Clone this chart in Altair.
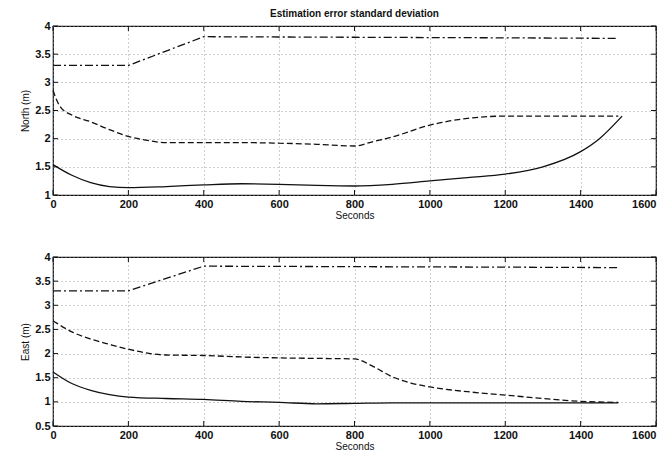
import altair as alt
import pandas as pd

# ---------------- data ----------------
# North panel
n_dd_x = [0, 200, 400, 800, 1200, 1500]
n_dd_y = [3.3, 3.3, 3.81, 3.8, 3.79, 3.78]
n_da_x = [0, 10, 20, 50, 100, 150, 200, 250, 300, 400, 500, 600, 700, 800, 850, 900, 1000, 1100, 1200, 1300, 1400, 1500]
n_da_y = [2.86, 2.68, 2.56, 2.42, 2.30, 2.16, 2.04, 1.97, 1.93, 1.93, 1.93, 1.92, 1.90, 1.87, 1.95, 2.03, 2.24, 2.36, 2.40, 2.40, 2.40, 2.40]
n_so_x = [0, 50, 100, 150, 200, 300, 400, 500, 600, 700, 800, 900, 1000, 1100, 1200, 1300, 1400, 1450, 1510]
n_so_y = [1.54, 1.35, 1.22, 1.15, 1.13, 1.15, 1.18, 1.20, 1.19, 1.17, 1.16, 1.19, 1.25, 1.31, 1.37, 1.50, 1.77, 2.00, 2.40]

# East panel
e_dd_x = [0, 200, 400, 800, 1200, 1500]
e_dd_y = [3.3, 3.3, 3.81, 3.8, 3.79, 3.78]
e_da_x = [0, 10, 50, 100, 150, 200, 300, 400, 500, 600, 700, 800, 850, 900, 950, 1000, 1100, 1200, 1300, 1400, 1500]
e_da_y = [2.68, 2.63, 2.45, 2.30, 2.19, 2.09, 1.97, 1.96, 1.93, 1.91, 1.90, 1.89, 1.73, 1.52, 1.39, 1.31, 1.21, 1.14, 1.07, 1.01, 0.99]
e_so_x = [0, 50, 100, 150, 200, 300, 400, 500, 600, 700, 800, 900, 1000, 1200, 1500]
e_so_y = [1.62, 1.38, 1.24, 1.15, 1.10, 1.07, 1.05, 1.01, 0.99, 0.96, 0.97, 0.98, 0.98, 0.98, 0.98]

x_ticks = [0, 200, 400, 600, 800, 1000, 1200, 1400, 1600]
n_y_ticks = [1, 1.5, 2, 2.5, 3, 3.5, 4]
e_y_ticks = [0.5, 1, 1.5, 2, 2.5, 3, 3.5, 4]

FONT = "Liberation Sans"
W, H = 603, 169


def series(xs, ys):
    return pd.DataFrame({"x": xs, "y": ys})


def panel(dd, da, so, ydom, yticks, ytitle, title=None):
    xs = alt.Scale(domain=[0, 1600], nice=False)
    ys = alt.Scale(domain=ydom, nice=False)
    xax = alt.Axis(values=x_ticks, title="Seconds", format="d", titlePadding=1,
                   labelAlign={"condition": {"test": "datum.value >= 1600", "value": "right"},
                               "value": "center"})
    yax = alt.Axis(values=yticks, title=ytitle, format="~g", titlePadding=4)

    l_dd = alt.Chart(dd).mark_line(color="#111", strokeWidth=1.3, strokeDash=[8, 3, 2, 3]).encode(
        x=alt.X("x:Q", scale=xs, axis=xax), y=alt.Y("y:Q", scale=ys, axis=yax))
    l_da = alt.Chart(da).mark_line(color="#111", strokeWidth=1.3, strokeDash=[6, 3],
                                   interpolate="monotone").encode(
        x=alt.X("x:Q", scale=xs, axis=xax), y=alt.Y("y:Q", scale=ys, axis=yax))
    l_so = alt.Chart(so).mark_line(color="#111", strokeWidth=1.3,
                                   interpolate="monotone").encode(
        x=alt.X("x:Q", scale=xs, axis=xax), y=alt.Y("y:Q", scale=ys, axis=yax))

    # inward ticks (top & bottom for x, left & right for y)
    xt = pd.DataFrame({"x": x_ticks})
    yt = pd.DataFrame({"y": yticks})
    t_bot = alt.Chart(xt).mark_rule(color="#111", strokeWidth=1).encode(
        x=alt.X("x:Q", scale=xs, axis=xax), y=alt.value(H), y2=alt.value(H - 5))
    t_top = alt.Chart(xt).mark_rule(color="#111", strokeWidth=1).encode(
        x=alt.X("x:Q", scale=xs, axis=xax), y=alt.value(0), y2=alt.value(5))
    t_left = alt.Chart(yt).mark_rule(color="#111", strokeWidth=1).encode(
        y=alt.Y("y:Q", scale=ys, axis=yax), x=alt.value(0), x2=alt.value(5))
    t_right = alt.Chart(yt).mark_rule(color="#111", strokeWidth=1).encode(
        y=alt.Y("y:Q", scale=ys, axis=yax), x=alt.value(W), x2=alt.value(W - 5))

    ch = alt.layer(l_dd, l_da, l_so, t_bot, t_top, t_left, t_right).properties(width=W, height=H)
    if title:
        ch = ch.properties(title=alt.TitleParams(title, font=FONT, fontSize=10,
                                                 fontWeight="bold", color="#111", offset=1))
    return ch


top = panel(series(n_dd_x, n_dd_y), series(n_da_x, n_da_y), series(n_so_x, n_so_y),
            [1, 4], n_y_ticks, "North (m)", "Estimation error standard deviation")
bot = panel(series(e_dd_x, e_dd_y), series(e_da_x, e_da_y), series(e_so_x, e_so_y),
            [0.5, 4], e_y_ticks, "East (m)")

chart = alt.vconcat(top, bot, spacing=29).properties(
    padding={"left": 12, "top": 0, "right": 2, "bottom": 0},
    background="white"
).configure_axis(
    grid=True, gridDash=[1, 3], gridColor="#888", gridOpacity=0.8,
    ticks=False, domain=False, labelOverlap=False, labelFlush=False,
    labelFont=FONT, labelFontSize=11, labelFontWeight="bold", labelColor="#111",
    labelPadding=3, titleFont=FONT, titleFontSize=10, titleFontWeight="normal",
    titleColor="#111"
).configure_view(stroke="#111", strokeWidth=1.2)

chart.save("out.html", embed_options={"renderer": "svg", "actions": False})
